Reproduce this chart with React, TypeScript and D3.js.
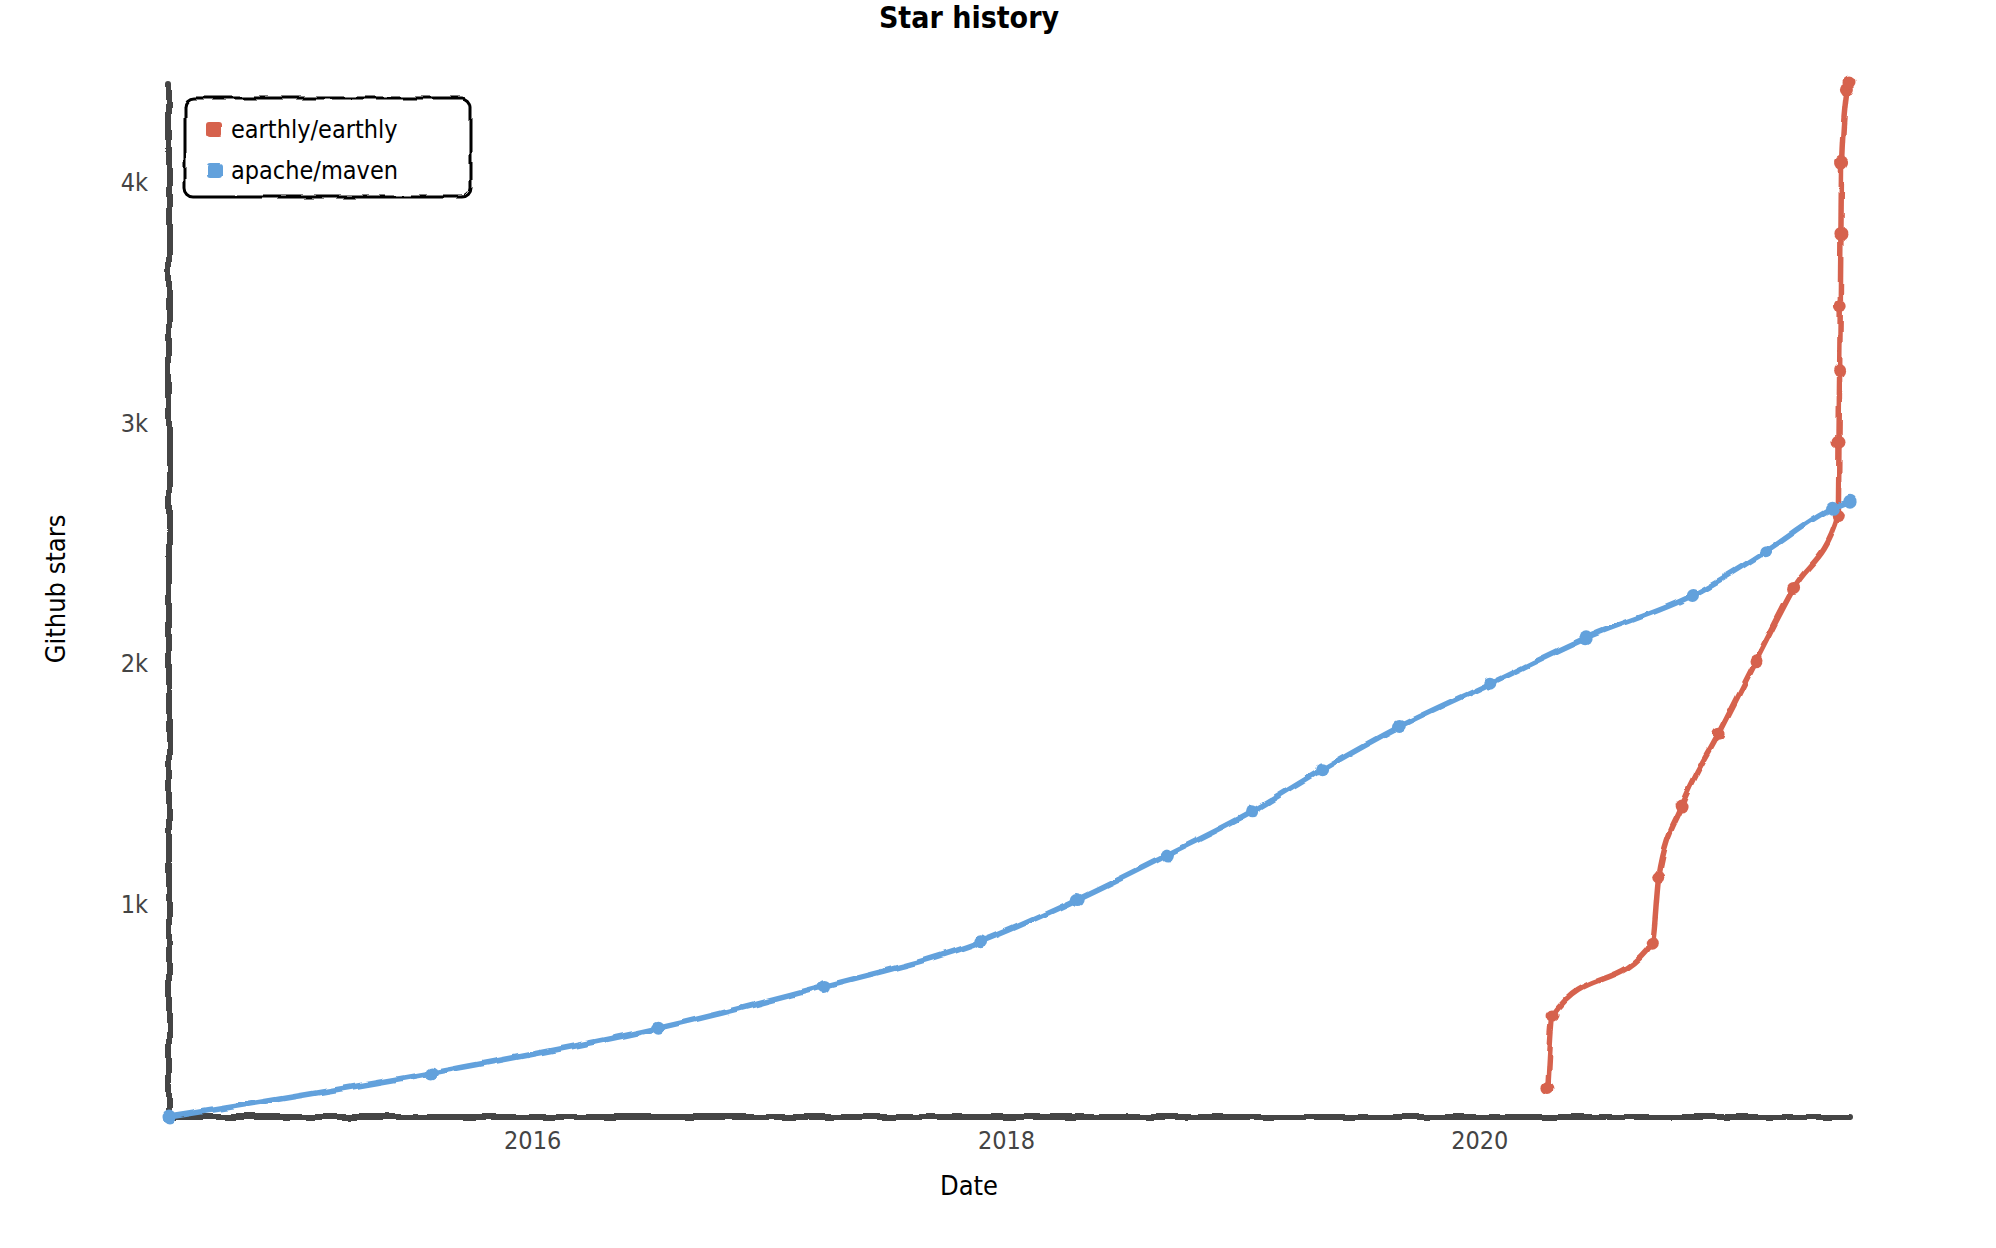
import React from "react";
import * as d3 from "d3";

const W = 1996;
const H = 1248;

const chartTitle = "Star history";
const xAxisLabel = "Date";
const yAxisLabel = "Github stars";

const seriesNames = ["earthly/earthly", "apache/maven"];
const seriesColors = ["#d6624e", "#62a1dc"];

const earthlyDates = [
  "2020-04-15", "2020-04-23", "2020-09-23", "2020-10-03", "2020-11-08", "2021-01-04",
  "2021-03-02", "2021-04-29", "2021-07-07", "2021-07-08", "2021-07-09", "2021-07-10",
  "2021-07-11", "2021-07-12", "2021-07-21", "2021-07-25",
];
const earthlyStars = [
  233, 538, 837, 1111, 1407, 1710, 2011, 2312, 2615, 2920, 3218, 3484, 3784, 4085, 4390, 4418,
];

const mavenDates = [
  "2014-06-19", "2015-07-29", "2016-07-13", "2017-03-26", "2017-11-22", "2018-04-20",
  "2018-09-06", "2019-01-14", "2019-05-02", "2019-08-30", "2020-01-18", "2020-06-13",
  "2020-11-24", "2021-03-17", "2021-06-28", "2021-07-25",
];
const mavenStars = [
  114, 297, 483, 657, 843, 1018, 1203, 1383, 1558, 1738, 1918, 2107, 2283, 2465, 2645, 2675,
];

const yTickValues = [1000, 2000, 3000, 4000];
const yTickLabels = ["1k", "2k", "3k", "4k"];

const FONT = "'Liberation Sans Narrow', 'DejaVu Sans Condensed', 'Noto Sans', sans-serif";

type Pt = { date: Date; stars: number };

export default function App() {
  const parse = d3.timeParse("%Y-%m-%d");
  const series = [
    {
      name: seriesNames[0],
      color: seriesColors[0],
      pts: earthlyDates.map((d, i) => ({ date: parse(d) as Date, stars: earthlyStars[i] })),
    },
    {
      name: seriesNames[1],
      color: seriesColors[1],
      pts: mavenDates.map((d, i) => ({ date: parse(d) as Date, stars: mavenStars[i] })),
    },
  ];
  const all: Pt[] = series.flatMap((s) => s.pts);

  const x = d3
    .scaleTime()
    .domain(d3.extent(all, (d) => d.date) as [Date, Date])
    .range([169, 1850]);
  const y = d3
    .scaleLinear()
    .domain(d3.extent(all, (d) => d.stars) as [number, number])
    .range([1117, 82]);

  const line = d3
    .line<Pt>()
    .x((d) => x(d.date))
    .y((d) => y(d.stars))
    .curve(d3.curveMonotoneX);

  const xTicks = x.ticks(d3.timeYear.every(2) as d3.TimeInterval);
  const fmtYear = d3.timeFormat("%Y");

  const [x0, x1] = x.range();
  const [yBottom, yTop] = y.range();

  return (
    <div style={{ position: "absolute", left: 0, top: 0, background: "#fff" }}>
      <svg width={W} height={H} viewBox={`0 0 ${W} ${H}`} style={{ display: "block" }}>
        <defs>
          <filter id="xkcdify" filterUnits="userSpaceOnUse" x={-10} y={-10} width={W + 20} height={H + 20}>
            <feTurbulence type="fractalNoise" baseFrequency="0.05" result="noise" />
            <feDisplacementMap
              scale="6"
              xChannelSelector="R"
              yChannelSelector="G"
              in="SourceGraphic"
              in2="noise"
            />
          </filter>
        </defs>
        <rect x={0} y={0} width={W} height={H} fill="#fff" />

        {/* title */}
        <text
          x={969}
          y={28}
          textAnchor="middle"
          fontFamily={FONT}
          fontWeight="bold"
          fontSize={30}
          fill="#000"
        >
          {chartTitle}
        </text>

        {/* axes */}
        <g filter="url(#xkcdify)">
          <path
            d={`M${x0},${yTop + 2} L${x0},${yBottom}`}
            stroke="#444"
            strokeWidth={6}
            fill="none"
            strokeLinecap="round"
          />
          <path
            d={`M${x0},${yBottom} L${x1},${yBottom}`}
            stroke="#444"
            strokeWidth={6}
            fill="none"
            strokeLinecap="round"
          />
        </g>

        {/* y ticks */}
        {yTickValues.map((v, i) => (
          <text
            key={"y" + v}
            x={148}
            y={y(v)}
            dy="0.35em"
            textAnchor="end"
            fontFamily={FONT}
            fontSize={25}
            fill="#444"
          >
            {yTickLabels[i]}
          </text>
        ))}

        {/* x ticks */}
        {xTicks.map((t) => (
          <text
            key={"x" + t.getTime()}
            x={x(t)}
            y={1149}
            textAnchor="middle"
            fontFamily={FONT}
            fontSize={25}
            fill="#444"
          >
            {fmtYear(t)}
          </text>
        ))}

        {/* axis labels */}
        <text
          x={969}
          y={1195}
          textAnchor="middle"
          fontFamily={FONT}
          fontSize={27}
          fill="#000"
        >
          {xAxisLabel}
        </text>
        <text
          transform={`translate(65,589) rotate(-90)`}
          textAnchor="middle"
          fontFamily={FONT}
          fontSize={27}
          fill="#000"
        >
          {yAxisLabel}
        </text>

        {/* series */}
        <g filter="url(#xkcdify)">
          {series.map((s) => (
            <g key={s.name}>
              <path
                d={line(s.pts) || ""}
                fill="none"
                stroke={s.color}
                strokeWidth={5.5}
                strokeLinecap="round"
                strokeLinejoin="round"
              />
              {s.pts.map((p, i) => (
                <circle key={i} cx={x(p.date)} cy={y(p.stars)} r={6.5} fill={s.color} />
              ))}
            </g>
          ))}
        </g>

        {/* legend */}
        <g filter="url(#xkcdify)">
          <rect
            x={185}
            y={98}
            width={286}
            height={99}
            rx={9}
            ry={9}
            fill="#fff"
            stroke="#000"
            strokeWidth={3}
          />
          {series.map((s, i) => (
            <rect
              key={s.name}
              x={207}
              y={122 + i * 41}
              width={15}
              height={15}
              rx={3}
              fill={s.color}
            />
          ))}
        </g>
        {series.map((s, i) => (
          <text
            key={s.name + "t"}
            x={231}
            y={138 + i * 41}
            fontFamily={FONT}
            fontSize={25}
            fill="#000"
          >
            {s.name}
          </text>
        ))}
      </svg>
    </div>
  );
}
